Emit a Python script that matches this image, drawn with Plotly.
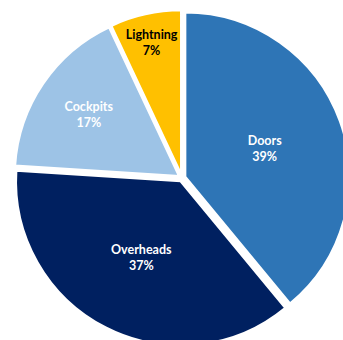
import plotly.graph_objects as go

categories = ["Doors", "Overheads", "Cockpits", "Lightning"]
shares = [39, 37, 17, 7]
colors = ["#2E75B6", "#002060", "#9DC3E6", "#FFC000"]
text_colors = ["white", "white", "white", "black"]

W, H = 360, 356
cx, cy = 182, 178
D = 336

fig = go.Figure(go.Pie(
    labels=categories,
    values=shares,
    sort=False,
    direction="clockwise",
    rotation=0,
    pull=[0.02] * 4,
    marker=dict(colors=colors, line=dict(color="white", width=2.5)),
    textinfo="label+percent",
    texttemplate="<b>%{label}</b><br><b>%{percent:.0%}</b>",
    textposition="inside",
    insidetextorientation="horizontal",
    insidetextfont=dict(color=text_colors, size=12.5, family="Lato"),
    showlegend=False,
    hoverinfo="label+percent",
    domain=dict(x=[(cx - D / 2) / W, (cx + D / 2) / W],
                y=[1 - (cy + D / 2) / H, 1 - (cy - D / 2) / H]),
))
fig.update_layout(
    width=W, height=H,
    margin=dict(l=0, r=0, t=0, b=0),
    paper_bgcolor="white",
    uniformtext=dict(minsize=12.5, mode="show"),
)
fig.write_html(
    "out.html",
    config={"displayModeBar": False},
    post_script="document.body.style.margin='0';document.body.style.overflow='hidden';document.documentElement.style.overflow='hidden';",
)
